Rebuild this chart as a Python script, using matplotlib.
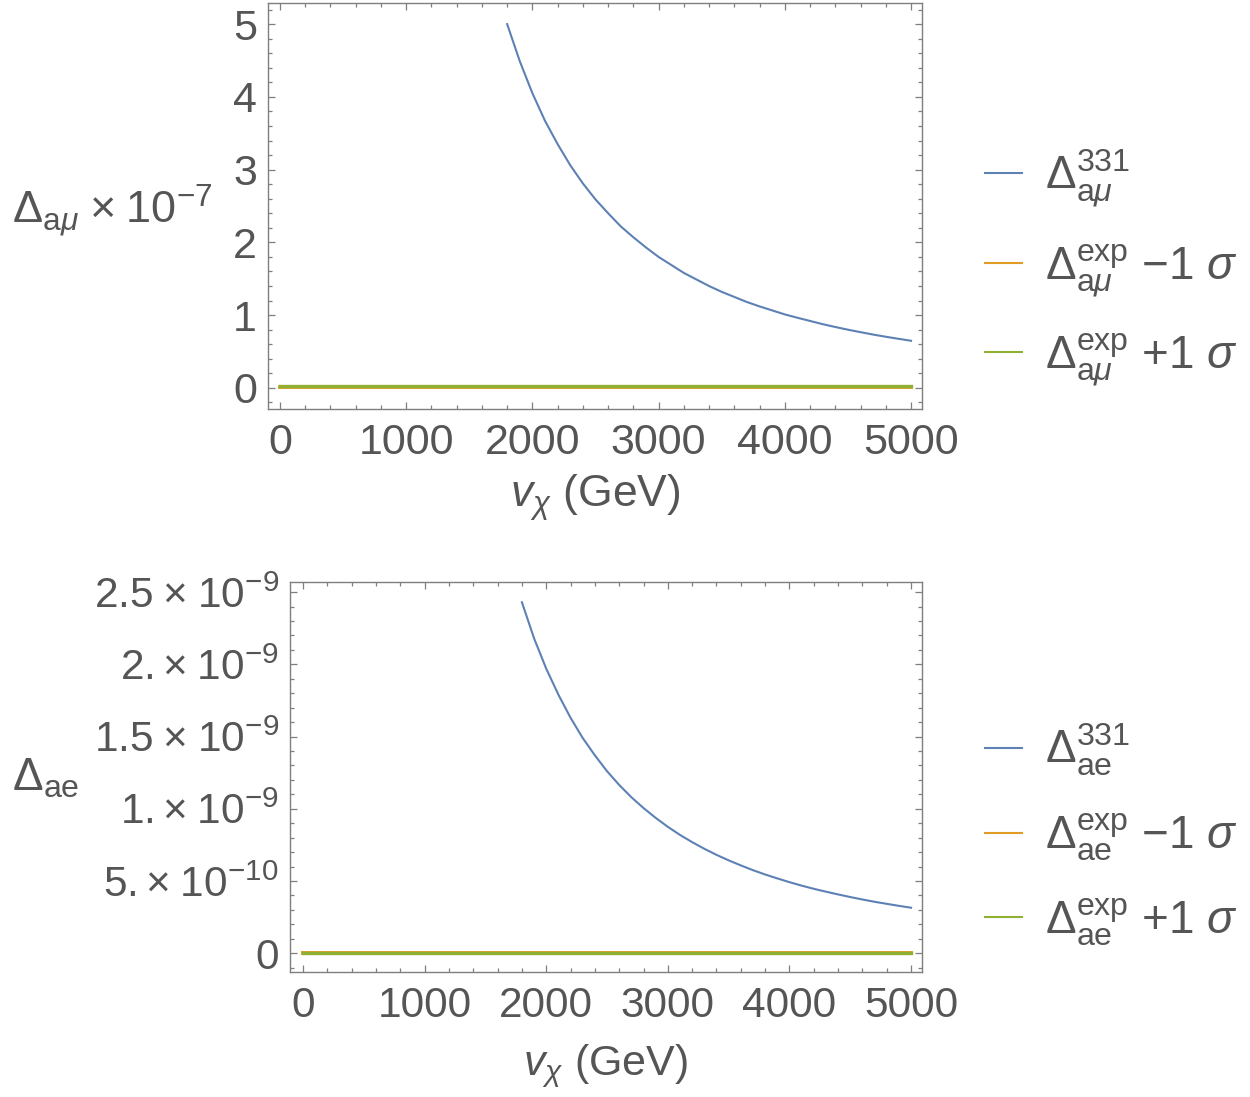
import matplotlib
matplotlib.use("Agg")
import matplotlib.pyplot as plt
from matplotlib.ticker import MultipleLocator

plt.rcParams['font.family'] = ['Liberation Sans', 'DejaVu Sans']
plt.rcParams['mathtext.fontset'] = 'custom'
plt.rcParams['mathtext.rm'] = 'Liberation Sans'
plt.rcParams['mathtext.it'] = 'Liberation Sans:italic'
plt.rcParams['mathtext.bf'] = 'Liberation Sans:bold'

# ---- data ----
v_chi = [1800, 1900, 2000, 2100, 2200, 2300, 2400, 2500, 2600, 2700, 2800,
         2900, 3000, 3100, 3200, 3300, 3400, 3500, 3600, 3700, 3800, 3900,
         4000, 4100, 4200, 4300, 4400, 4500, 4600, 4700, 4800, 4900, 5000]
amu_331 = [5.00, 4.49, 4.05, 3.67, 3.35, 3.06, 2.81, 2.59, 2.40, 2.22, 2.07,
           1.93, 1.80, 1.69, 1.58, 1.49, 1.40, 1.32, 1.25, 1.18, 1.12, 1.065,
           1.01, 0.964, 0.92, 0.876, 0.837, 0.80, 0.766, 0.733, 0.703, 0.675,
           0.648]  # x 1e-7
ae_331 = [2.43e-9, 2.18e-9, 1.97e-9, 1.79e-9, 1.63e-9, 1.49e-9, 1.37e-9,
          1.26e-9, 1.165e-9, 1.08e-9, 1.005e-9, 0.937e-9, 0.875e-9, 0.819e-9,
          0.769e-9, 0.723e-9, 0.681e-9, 0.643e-9, 0.608e-9, 0.575e-9,
          0.545e-9, 0.518e-9, 0.492e-9, 0.468e-9, 0.446e-9, 0.426e-9,
          0.407e-9, 0.389e-9, 0.372e-9, 0.356e-9, 0.342e-9, 0.328e-9,
          0.315e-9]
flat_x = [0, 5000]
amu_exp_minus = [0.0192, 0.0192]   # x 1e-7
amu_exp_plus = [0.031, 0.031]
ae_exp_minus = [-1.24e-12, -1.24e-12]
ae_exp_plus = [-0.52e-12, -0.52e-12]

x_ticks = [0, 1000, 2000, 3000, 4000, 5000]
x_ticklabels = ['0', '1000', '2000', '3000', '4000', '5000']
amu_yticks = [0, 1, 2, 3, 4, 5]
amu_yticklabels = ['0', '1', '2', '3', '4', '5']
ae_yticks = [0, 0.5e-9, 1.0e-9, 1.5e-9, 2.0e-9, 2.5e-9]
ae_yticklabels = ['0', r'$5.{\times}\;10^{-10}$', r'$1.{\times}\;10^{-9}$',
                  r'$1.5\;{\times}\;10^{-9}$', r'$2.{\times}\;10^{-9}$',
                  r'$2.5\;{\times}\;10^{-9}$']

labels_mu = [r'$\Delta^{331}_{\mathrm{a}\mu}$',
             r'$\Delta^{\mathrm{exp}}_{\mathrm{a}\mu}$ $-$1 $\sigma$',
             r'$\Delta^{\mathrm{exp}}_{\mathrm{a}\mu}$ +1 $\sigma$']
labels_e = [r'$\Delta^{331}_{\mathrm{ae}}$',
            r'$\Delta^{\mathrm{exp}}_{\mathrm{ae}}$ $-$1 $\sigma$',
            r'$\Delta^{\mathrm{exp}}_{\mathrm{ae}}$ +1 $\sigma$']

# ---- style ----
BLUE = '#5E81B5'
ORANGE = '#E19C24'
GREEN = '#8FB032'
TXT = '#555555'
FRAME = '#7f7f7f'

W, H = 1250, 1097
fig = plt.figure(figsize=(W / 100, H / 100), dpi=100)


def px_axes(l, t, r, b):
    return fig.add_axes([l / W, 1 - b / H, (r - l) / W, (b - t) / H])


ax1 = px_axes(268, 3, 922, 409)
ax2 = px_axes(290, 582, 922, 972)


def style(ax, fs):
    for s in ax.spines.values():
        s.set_color(FRAME)
        s.set_linewidth(1.0)
    ax.tick_params(which='both', direction='in', top=True, right=True,
                   color=FRAME, labelcolor=TXT, labelsize=fs, width=0.9)
    ax.tick_params(which='major', length=5)
    ax.tick_params(which='minor', length=2.8)
    ax.tick_params(axis='x', pad=10)
    ax.tick_params(axis='y', pad=8)
    ax.xaxis.set_minor_locator(MultipleLocator(200))


# top panel
ax1.plot(v_chi, amu_331, color=BLUE, lw=1.5, label=labels_mu[0])
ax1.plot(flat_x, amu_exp_minus, color=ORANGE, lw=2.8, label=labels_mu[1])
ax1.plot(flat_x, amu_exp_plus, color=GREEN, lw=2.4, label=labels_mu[2])
ax1.set_xlim(-95, 5087)
ax1.set_ylim(-0.29, 5.29)
ax1.set_xticks(x_ticks, x_ticklabels)
ax1.set_yticks(amu_yticks, amu_yticklabels)
style(ax1, 31)
ax1.yaxis.set_minor_locator(MultipleLocator(0.2))

# bottom panel
ax2.plot(v_chi, ae_331, color=BLUE, lw=1.5, label=labels_e[0])
ax2.plot(flat_x, ae_exp_minus, color=ORANGE, lw=2.8, label=labels_e[1])
ax2.plot(flat_x, ae_exp_plus, color=GREEN, lw=2.4, label=labels_e[2])
ax2.set_xlim(-107, 5090)
ax2.set_ylim(-0.13e-9, 2.57e-9)
ax2.set_xticks(x_ticks, x_ticklabels)
ax2.set_yticks(ae_yticks, ae_yticklabels)
style(ax2, 30.5)
ax2.yaxis.set_minor_locator(MultipleLocator(0.1e-9))

# axis labels
fig.text(12 / W, 1 - 210 / H, r'$\Delta_{\mathrm{a}\mu}\;{\times}\;10^{-7}$',
         color=TXT, fontsize=32.5, ha='left', va='center')
fig.text(12 / W, 1 - 778 / H, r'$\Delta_{\mathrm{ae}}$',
         color=TXT, fontsize=33, ha='left', va='center')
fig.text(595 / W, 1 - 498 / H, r'$v_\chi$ (GeV)', color=TXT, fontsize=32,
         ha='center', va='center')
fig.text(606 / W, 1 - 1066 / H, r'$v_\chi$ (GeV)', color=TXT, fontsize=31,
         ha='center', va='center')

# legends
for ax, yc in ((ax1, 268), (ax2, 835)):
    leg = ax.legend(loc='center left', bbox_to_anchor=(985 / W, 1 - yc / H),
                    bbox_transform=fig.transFigure, frameon=False,
                    fontsize=33, handlelength=0.8, handletextpad=0.5,
                    labelspacing=0.72, borderpad=0, borderaxespad=0)
    for t in leg.get_texts():
        t.set_color(TXT)
    for l in leg.get_lines():
        l.set_linewidth(1.5)

fig.savefig('out.png', dpi=100, facecolor='white')
